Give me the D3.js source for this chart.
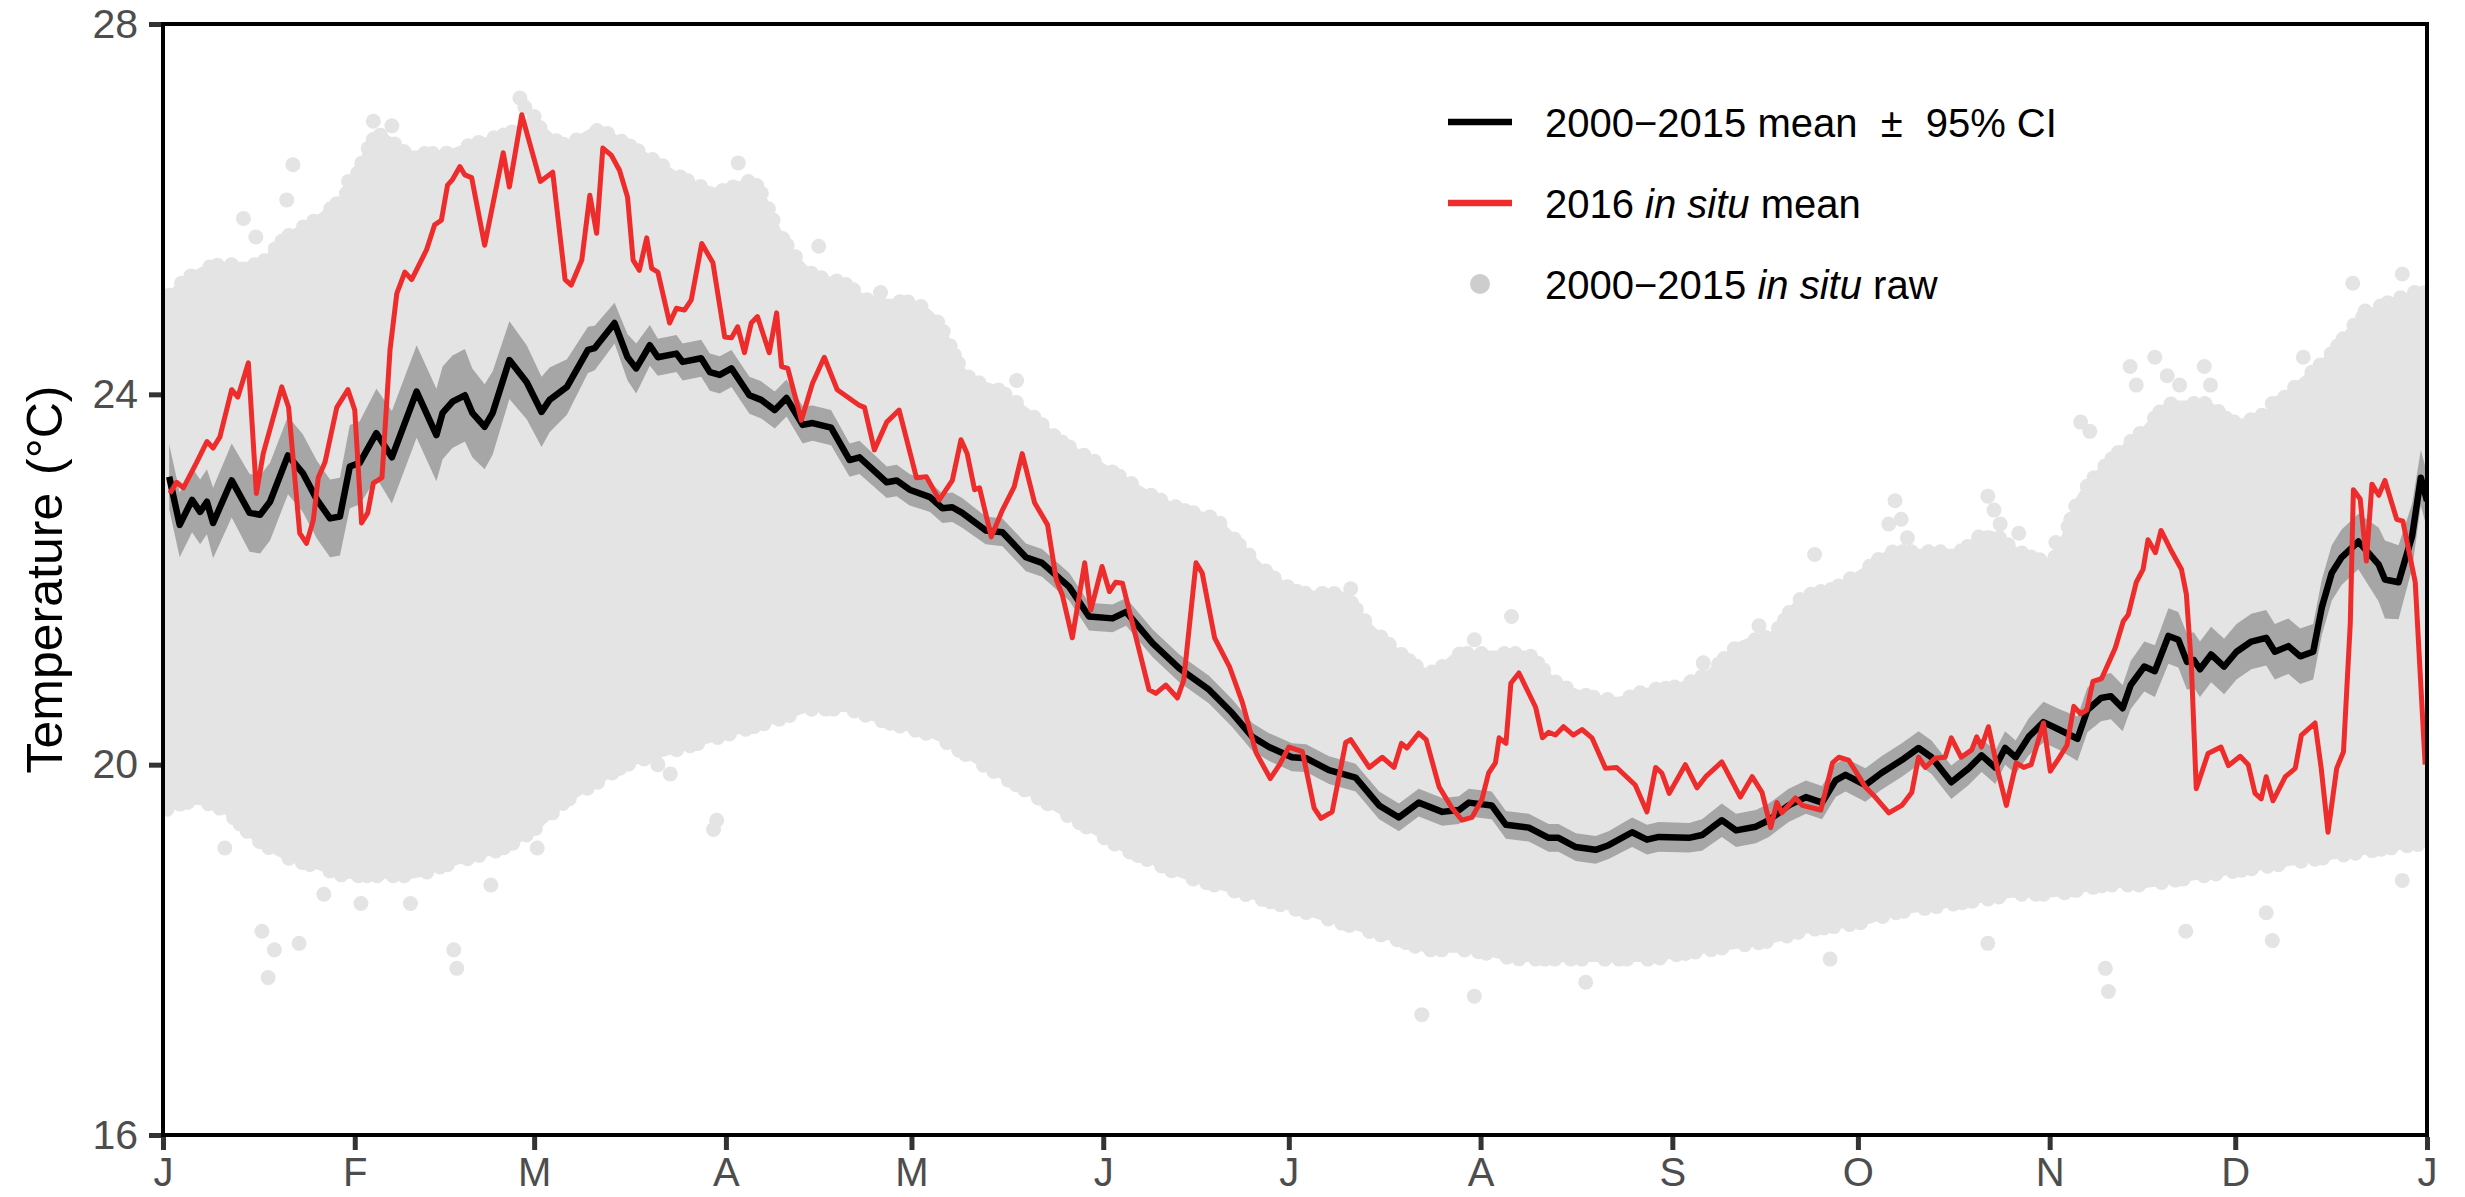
<!DOCTYPE html>
<html>
<head>
<meta charset="utf-8">
<script src="https://cdn.jsdelivr.net/npm/d3@7"></script>
<style>
  html, body { margin: 0; padding: 0; background: #ffffff; }
  svg { display: block; }
  text { font-family: "Liberation Sans", Arial, Helvetica, sans-serif; }
</style>
</head>
<body>
<svg id="chart" width="2465" height="1197"></svg>
<script>
// ---------------- DATA ----------------
const monthLabels = ["J","F","M","A","M","J","J","A","S","O","N","D","J"];
const monthStartDays = [0,31,60,91,121,152,182,213,244,274,305,335,366];
const yTicks = [16, 20, 24, 28];

// 2000-2015 mean: [day of year, mean temperature, 95% CI half-width]
const meanSeries = [
[1,23.11,0.35],[2.7,22.59,0.35],[4.7,22.86,0.35],[6,22.73,0.35],[7.1,22.84,0.35],[8.1,22.61,0.38],[11.1,23.07,0.4],[14,22.72,0.42],[15.7,22.70,0.42],[17.3,22.84,0.42],[20.2,23.34,0.42],[22.6,23.15,0.42],[24.9,22.86,0.42],[27,22.66,0.42],[28.6,22.68,0.42],[30.2,23.22,0.45],[31.8,23.26,0.45],[34.5,23.58,0.48],[37,23.32,0.5],[41,24.03,0.5],[44.2,23.56,0.5],[45.2,23.80,0.5],[46.8,23.92,0.5],[48.8,23.99,0.5],[50,23.80,0.48],[52,23.65,0.46],[53.3,23.80,0.45],[56,24.37,0.42],[58.8,24.13,0.4],[61.2,23.81,0.38],[62.5,23.94,0.35],[65.3,24.08,0.3],[68.7,24.48,0.25],[69.8,24.50,0.24],[73,24.77,0.22],[75.1,24.40,0.25],[76.5,24.28,0.27],[78.7,24.53,0.22],[80,24.40,0.2],[83,24.44,0.2],[84,24.35,0.2],[87,24.39,0.2],[88.4,24.24,0.2],[90,24.21,0.2],[91.9,24.28,0.2],[94.8,23.99,0.2],[96.7,23.94,0.2],[98.9,23.83,0.2],[100.8,23.96,0.2],[103.4,23.67,0.2],[105,23.69,0.19],[108,23.64,0.19],[111,23.29,0.18],[112.6,23.32,0.18],[117,23.05,0.17],[118.6,23.07,0.17],[120.7,22.97,0.17],[124,22.89,0.16],[126,22.77,0.16],[127.6,22.78,0.16],[129.2,22.72,0.16],[133,22.53,0.15],[135.7,22.51,0.15],[139.5,22.24,0.15],[142.1,22.18,0.15],[146.5,21.92,0.15],[149.7,21.60,0.15],[153.5,21.58,0.15],[155.7,21.65,0.15],[160,21.31,0.15],[164.3,21.04,0.15],[169.1,20.81,0.15],[172.8,20.56,0.15],[176.1,20.30,0.15],[178.8,20.19,0.15],[182.5,20.08,0.15],[184.8,20.07,0.15],[188.5,19.94,0.15],[192.8,19.86,0.15],[196.6,19.56,0.15],[199.8,19.43,0.15],[203,19.59,0.15],[206.8,19.49,0.15],[209.5,19.51,0.15],[211.1,19.59,0.15],[214.8,19.56,0.15],[217.1,19.35,0.15],[220.8,19.32,0.15],[224,19.21,0.15],[225.6,19.21,0.15],[228.4,19.11,0.15],[231.6,19.08,0.15],[233.7,19.13,0.15],[237.5,19.27,0.16],[239.9,19.19,0.16],[241.8,19.22,0.16],[246.7,19.21,0.16],[248.8,19.24,0.17],[252,19.40,0.18],[254.3,19.29,0.18],[257.5,19.33,0.18],[259.6,19.40,0.18],[262.8,19.56,0.18],[265.6,19.65,0.18],[268.2,19.59,0.18],[270.4,19.83,0.18],[272,19.89,0.18],[275.2,19.78,0.18],[277.8,19.91,0.18],[281.1,20.05,0.18],[283.8,20.18,0.18],[285.9,20.08,0.18],[289.1,19.81,0.18],[291.9,19.96,0.18],[294,20.10,0.18],[296.2,19.97,0.18],[297.8,20.18,0.18],[299.5,20.08,0.18],[301.6,20.30,0.2],[304,20.46,0.22],[306.5,20.38,0.22],[309.5,20.28,0.24],[311.1,20.59,0.24],[313.3,20.72,0.25],[314.9,20.74,0.25],[316.8,20.61,0.25],[318.1,20.86,0.26],[320.3,21.06,0.27],[322,21.01,0.28],[324.2,21.39,0.3],[325.8,21.35,0.3],[327.2,21.11,0.3],[328.3,21.13,0.3],[329.3,21.03,0.3],[331.1,21.19,0.3],[333.2,21.06,0.3],[335.2,21.22,0.3],[337.6,21.33,0.3],[340,21.37,0.3],[341.4,21.22,0.3],[343.6,21.28,0.3],[345.5,21.17,0.3],[347.6,21.22,0.3],[349,21.70,0.3],[350.6,22.07,0.3],[352.2,22.24,0.3],[354.9,22.41,0.3],[356.5,22.29,0.35],[358.2,22.16,0.4],[359.2,22.00,0.42],[361.4,21.97,0.4],[363.6,22.47,0.35],[365,23.10,0.3],[366,22.85,0.3]
];

// 2016 in situ mean: [day of year, temperature]
const situ2016 = [
[1.1,22.93],[2.2,23.05],[3.3,22.99],[5.4,23.26],[7.1,23.49],[8.1,23.42],[9.2,23.54],[11.1,24.05],[12.1,23.97],[13.8,24.34],[15.1,22.93],[16.2,23.36],[19.2,24.08],[20.3,23.86],[22.1,22.50],[23.2,22.39],[24.3,22.64],[25.1,23.10],[26.2,23.27],[28.1,23.86],[29.9,24.05],[31,23.83],[32.1,22.61],[33.1,22.72],[34,23.04],[35.4,23.10],[36.7,24.48],[37.8,25.09],[39.1,25.32],[40.2,25.24],[42.6,25.56],[43.9,25.83],[45,25.88],[46,26.26],[46.8,26.32],[48,26.46],[48.8,26.37],[49.9,26.34],[52,25.61],[55,26.61],[56,26.24],[58,27.02],[61,26.30],[63,26.40],[65,25.24],[66,25.18],[67.7,25.45],[69,26.15],[70.1,25.74],[71.1,26.66],[72.5,26.58],[73.8,26.42],[75.1,26.13],[76,25.45],[77,25.34],[78.2,25.69],[79,25.36],[80,25.32],[81.9,24.77],[83,24.93],[84.3,24.91],[85.4,25.02],[87.1,25.63],[88.9,25.42],[90.8,24.62],[91.9,24.61],[92.9,24.73],[94,24.45],[95.1,24.77],[96.1,24.84],[98,24.45],[99.2,24.88],[100,24.30],[101,24.28],[103.2,23.72],[105,24.12],[106.9,24.40],[109,24.05],[112.6,23.88],[113.4,23.86],[115,23.40],[117,23.70],[119,23.83],[121.8,23.10],[123.4,23.11],[125.5,22.86],[127.6,23.07],[129,23.51],[130,23.36],[131.2,22.97],[132,22.99],[133.9,22.46],[135.7,22.75],[137.6,23.00],[138.9,23.36],[140.9,22.83],[143,22.59],[144.4,22.00],[145.4,21.83],[147,21.37],[149,22.18],[150,21.67],[151.8,22.14],[153,21.87],[154,21.97],[155.1,21.96],[159.4,20.81],[160.5,20.77],[162.1,20.86],[164,20.72],[165,20.91],[167,22.18],[168,22.07],[170,21.37],[172.4,21.06],[174.5,20.67],[176.7,20.13],[179,19.85],[180.5,20.0],[182,20.19],[184.2,20.14],[186.1,19.53],[187.2,19.42],[189,19.49],[191.2,20.24],[192,20.27],[195,19.97],[197.1,20.08],[199,19.97],[200.2,20.23],[201.1,20.18],[203,20.34],[204.2,20.27],[206.3,19.76],[208.4,19.53],[210,19.40],[211.6,19.43],[213.2,19.62],[214.3,19.91],[215.4,20.02],[216,20.29],[217.1,20.23],[217.9,20.88],[219.2,20.99],[221.9,20.62],[223,20.29],[224,20.35],[225.1,20.32],[226.4,20.41],[228,20.32],[229.4,20.38],[231,20.29],[233.2,19.96],[235,19.97],[238,19.78],[239.9,19.49],[241.3,19.97],[242.3,19.91],[243.5,19.69],[246.1,20.00],[248,19.75],[249.4,19.87],[252,20.03],[255,19.65],[256.9,19.87],[258.5,19.70],[259.9,19.32],[260.9,19.59],[261.7,19.48],[263.9,19.64],[265,19.56],[268,19.51],[269.9,20.02],[270.9,20.08],[272.5,20.05],[275.2,19.76],[276.8,19.65],[279,19.48],[281.1,19.56],[282.7,19.70],[283.8,20.08],[284.9,19.97],[286.5,20.07],[288.1,20.08],[289.1,20.29],[290.7,20.08],[292.4,20.16],[293.2,20.30],[294,20.19],[295.1,20.41],[296.7,19.91],[298,19.56],[299.6,20.02],[300.8,19.97],[302,20.00],[304,20.45],[305.1,19.93],[306.4,20.06],[307.8,20.21],[308.9,20.63],[310,20.55],[311,20.59],[312,20.90],[313.4,20.93],[315.6,21.26],[316.9,21.55],[317.7,21.62],[319,21.97],[320.1,22.11],[320.9,22.43],[322.1,22.29],[323,22.53],[324.5,22.33],[326.3,22.11],[327.1,21.84],[327.9,21.08],[328.7,19.74],[330.6,20.12],[332.7,20.19],[333.9,19.99],[335.8,20.09],[337.1,20.00],[338.2,19.69],[339.2,19.63],[340,19.87],[341.1,19.61],[343.1,19.87],[344.7,19.96],[345.7,20.32],[347.9,20.45],[348.9,19.96],[350,19.27],[351.4,19.96],[352.5,20.14],[353.6,21.53],[354.1,22.97],[355.2,22.87],[356.2,22.20],[357.1,23.03],[358.2,22.91],[359.2,23.07],[361.1,22.65],[362.1,22.63],[364.1,21.97],[365.7,20.0]
];

// 2000-2015 raw in situ cloud: dense band [day, low, high]
const rawBand = [
[0,19.5,25.0],[5,19.6,25.3],[10,19.5,25.4],[15,19.2,25.4],[20,19.0,25.7],[25,18.9,25.9],[30,18.8,26.2],[35,18.8,26.8],[40,18.8,26.6],[45,18.9,26.6],[50,19.0,26.7],[55,19.1,26.8],[60,19.3,26.9],[65,19.6,26.7],[70,19.8,26.85],[75,20.0,26.7],[80,20.1,26.5],[85,20.2,26.3],[90,20.3,26.2],[95,20.4,26.3],[100,20.5,25.7],[105,20.6,25.3],[110,20.6,25.2],[115,20.5,25.0],[120,20.4,25.0],[125,20.3,24.8],[130,20.1,24.2],[135,19.9,24.05],[140,19.7,23.8],[145,19.5,23.5],[150,19.3,23.3],[155,19.1,23.1],[160,18.95,22.9],[165,18.8,22.75],[170,18.7,22.65],[175,18.6,22.3],[180,18.5,22.0],[185,18.4,21.85],[190,18.3,21.85],[195,18.2,21.5],[200,18.1,21.2],[205,18.0,21.0],[210,18.0,21.2],[215,17.95,21.2],[220,17.9,21.2],[225,17.9,20.9],[230,17.9,20.75],[235,17.9,20.7],[240,17.9,20.8],[245,17.95,20.85],[250,18.0,21.0],[255,18.05,21.3],[260,18.1,21.4],[265,18.2,21.8],[270,18.25,21.9],[275,18.3,22.1],[280,18.4,22.3],[285,18.45,22.3],[290,18.5,22.3],[295,18.55,22.5],[300,18.6,22.3],[305,18.6,22.2],[310,18.65,22.9],[315,18.7,23.3],[320,18.7,23.6],[325,18.75,23.9],[330,18.8,23.9],[335,18.85,23.7],[340,18.9,23.8],[345,18.95,24.1],[350,19.0,24.4],[355,19.05,24.8],[360,19.1,25.0],[366,19.15,25.1]
];

// 2000-2015 raw in situ points standing apart from the dense band: [day, temperature]
const rawOutliers = [
[21,26.48],[20,26.10],[13,25.9],[15,25.7],[34,26.95],[37,26.9],[33,26.4],[30,26.3],[57.7,27.2],[58.5,27.1],[60,27.0],[93,26.5],[95,26.1],[96,25.8],[106,25.6],[116,25.1],[138,24.15],[192,21.9],[212,21.35],[218,21.6],[249,21.1],[258,21.5],[266,21.76],[267,22.27],[268,21.87],[279,22.6],[280,22.85],[281,22.65],[282,22.45],[295,22.9],[296,22.75],[297,22.6],[300,22.5],[306,22.4],[310,23.7],[311.5,23.6],[318,24.3],[319,24.1],[322,24.4],[324,24.2],[326,24.1],[330,24.3],[331,24.1],[341,23.9],[346,24.4],[348,24.2],[354,25.2],[356,24.9],[362,25.3],[364,25.1],
[16,18.2],[17,17.7],[18,18.0],[22,18.07],[10,19.1],[26,18.6],[32,18.5],[40,18.5],[47,18.0],[47.5,17.8],[53,18.7],[60.5,19.1],[80,20.0],[82,19.9],[89.5,19.4],[89,19.3],[203.5,17.3],[212,17.5],[230,17.65],[269.5,17.9],[295,18.07],[314,17.8],[314.5,17.55],[327,18.2],[340,18.4],[341,18.1],[362,18.75]
];

const legendItems = [
  { key: "line", color: "#000000", parts: [["2000\u22122015 mean ", false], ["\u00B1", false], [" 95% CI", false]] },
  { key: "line", color: "#ee2c2c", parts: [["2016 ", false], ["in situ", true], [" mean", false]] },
  { key: "dot",  color: "#cdcdcd", parts: [["2000\u22122015 ", false], ["in situ", true], [" raw", false]] }
];

// ---------------- LAYOUT ----------------
const W = 2465, H = 1197;
const plot = { left: 163, top: 24, right: 2427, bottom: 1135 };
const svg = d3.select("#chart");

const x = d3.scaleLinear().domain([0, 366]).range([plot.left, plot.right]);
const y = d3.scaleLinear().domain([16, 28]).range([plot.bottom, plot.top]);

svg.append("rect").attr("width", W).attr("height", H).attr("fill", "#ffffff");

svg.append("defs").append("clipPath").attr("id", "clip")
  .append("rect")
  .attr("x", plot.left).attr("y", plot.top)
  .attr("width", plot.right - plot.left).attr("height", plot.bottom - plot.top);

const g = svg.append("g").attr("clip-path", "url(#clip)");

const cloudColor = "#e4e4e4";

// dense raw cloud
const bandArea = d3.area()
  .x(d => x(d[0])).y0(d => y(d[1])).y1(d => y(d[2]))
  .curve(d3.curveMonotoneX);
g.append("path").datum(rawBand)
  .attr("d", bandArea)
  .attr("fill", cloudColor)
  .attr("stroke", cloudColor)
  .attr("stroke-width", 6)
  .attr("stroke-linejoin", "round");
// rim of the cloud drawn as point-sized round dots with uneven spacing
g.append("path").datum(rawBand)
  .attr("d", bandArea)
  .attr("fill", "none")
  .attr("stroke", cloudColor)
  .attr("stroke-width", 15)
  .attr("stroke-linecap", "round")
  .attr("stroke-dasharray", "0 9 0 17 0 12 0 21 0 8 0 14 0 23 0 11 0 16 0 10");

// scattered raw points
g.selectAll("circle.raw").data(rawOutliers).join("circle")
  .attr("class", "raw")
  .attr("cx", d => x(d[0])).attr("cy", d => y(d[1]))
  .attr("r", 7.5).attr("fill", cloudColor);

// 95% CI ribbon
const ciArea = d3.area()
  .x(d => x(d[0])).y0(d => y(d[1] - d[2])).y1(d => y(d[1] + d[2]));
g.append("path").datum(meanSeries)
  .attr("d", ciArea).attr("fill", "#a6a6a6");

// mean line
const meanLine = d3.line().x(d => x(d[0])).y(d => y(d[1]));
g.append("path").datum(meanSeries)
  .attr("d", meanLine)
  .attr("fill", "none").attr("stroke", "#000000")
  .attr("stroke-width", 6.5).attr("stroke-linejoin", "round").attr("stroke-linecap", "butt");

// 2016 line
g.append("path").datum(situ2016)
  .attr("d", meanLine)
  .attr("fill", "none").attr("stroke", "#ee2c2c")
  .attr("stroke-width", 5).attr("stroke-linejoin", "round").attr("stroke-linecap", "butt");

// panel border
svg.append("rect")
  .attr("x", plot.left).attr("y", plot.top)
  .attr("width", plot.right - plot.left).attr("height", plot.bottom - plot.top)
  .attr("fill", "none").attr("stroke", "#000000").attr("stroke-width", 4);

// axes
const yAxis = d3.axisLeft(y).tickValues(yTicks).tickSize(12).tickPadding(11).tickFormat(d3.format("d"));
const yG = svg.append("g").attr("transform", `translate(${plot.left - 2},0)`).call(yAxis);
yG.select(".domain").remove();
yG.selectAll(".tick line").attr("stroke", "#333333").attr("stroke-width", 5);
yG.selectAll(".tick text").attr("fill", "#4d4d4d").style("font-size", "41px")
  .style("font-family", '"Liberation Sans", Arial, sans-serif');

const xAxis = d3.axisBottom(x).tickValues(monthStartDays).tickSize(13).tickPadding(8)
  .tickFormat((d, i) => monthLabels[i]);
const xG = svg.append("g").attr("transform", `translate(0,${plot.bottom + 2})`).call(xAxis);
xG.select(".domain").remove();
xG.selectAll(".tick line").attr("stroke", "#333333").attr("stroke-width", 5);
xG.selectAll(".tick text").attr("fill", "#4d4d4d").style("font-size", "40px")
  .style("font-family", '"Liberation Sans", Arial, sans-serif');

// y title
const title = svg.append("text")
  .attr("transform", `translate(62,${(plot.top + plot.bottom) / 2}) rotate(-90)`)
  .attr("text-anchor", "middle")
  .style("font-size", "50px").attr("fill", "#000000");
title.append("tspan").text("Temperature ");
title.append("tspan").attr("dx", 4).text("(\u00B0C)");

// legend
const leg = svg.append("g").attr("transform", "translate(1448,122)");
const rowGap = 81;
legendItems.forEach((item, i) => {
  const row = leg.append("g").attr("transform", `translate(0,${i * rowGap})`);
  if (item.key === "line") {
    row.append("line").attr("x1", 0).attr("x2", 64).attr("y1", 0).attr("y2", 0)
      .attr("stroke", item.color).attr("stroke-width", 6.5);
  } else {
    row.append("circle").attr("cx", 32).attr("cy", 0).attr("r", 10).attr("fill", item.color);
  }
  const t = row.append("text").attr("x", 97).attr("y", 15)
    .style("font-size", "40px").attr("fill", "#000000");
  item.parts.forEach(([s, it], j) => {
    const ts = t.append("tspan").text(s);
    if (it) ts.style("font-style", "italic");
    if (i === 0 && j === 1) ts.attr("dx", 12);
    if (i === 0 && j === 2) ts.attr("dx", 12);
  });
});
</script>
</body>
</html>
